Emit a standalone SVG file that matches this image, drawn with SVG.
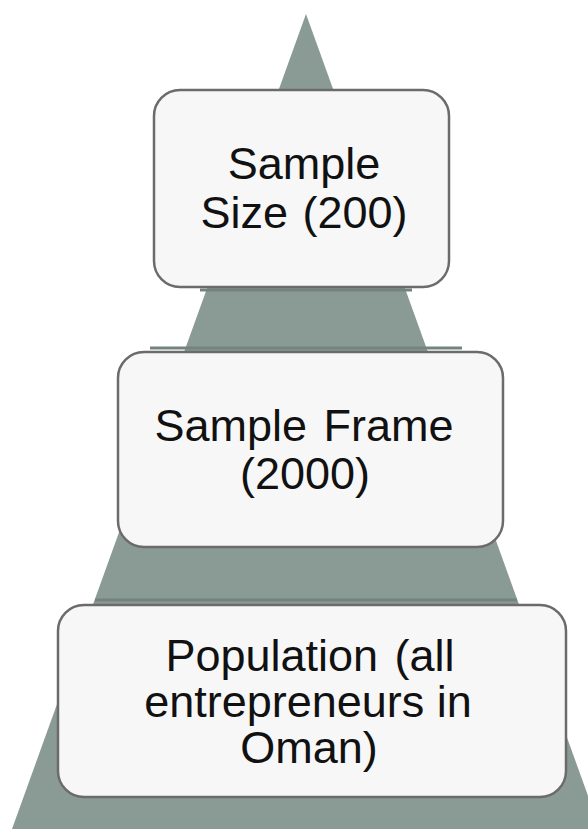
<svg xmlns="http://www.w3.org/2000/svg" width="588" height="829" viewBox="0 0 588 829">
<style>
.box{fill:#f7f7f7;stroke:#6b6b6b;stroke-width:2.5}
.t{font-family:"Liberation Sans",Arial,sans-serif;font-size:45px;fill:#111;text-anchor:middle}
.band{stroke:#74837d;stroke-width:3}
</style>
<rect width="588" height="829" fill="#ffffff"/>
<g id="pyramid">
<polygon points="306,14 600,829 12,829" fill="#8a9a94"/>
<line class="band" x1="200" y1="290" x2="412" y2="290"/>
<line class="band" x1="150" y1="348" x2="462" y2="348"/>
<line class="band" x1="95" y1="600" x2="517" y2="600"/>
</g>
<g id="node-sample-size">
<rect class="box" x="154" y="90" width="295" height="197" rx="26"/>
<text class="t" x="304" y="179">Sample</text>
<text class="t" x="304" y="228" word-spacing="2">Size (200)</text>
</g>
<g id="node-sample-frame">
<rect class="box" x="118" y="352" width="385" height="195" rx="26"/>
<text class="t" x="304" y="441" word-spacing="4">Sample Frame</text>
<text class="t" x="305" y="489">(2000)</text>
</g>
<g id="node-population">
<rect class="box" x="58" y="605" width="508" height="192" rx="26"/>
<text class="t" x="310" y="671" word-spacing="4">Population (all</text>
<text class="t" x="308" y="717">entrepreneurs in</text>
<text class="t" x="309" y="763">Oman)</text>
</g>
<g id="connectors"/>
</svg>
